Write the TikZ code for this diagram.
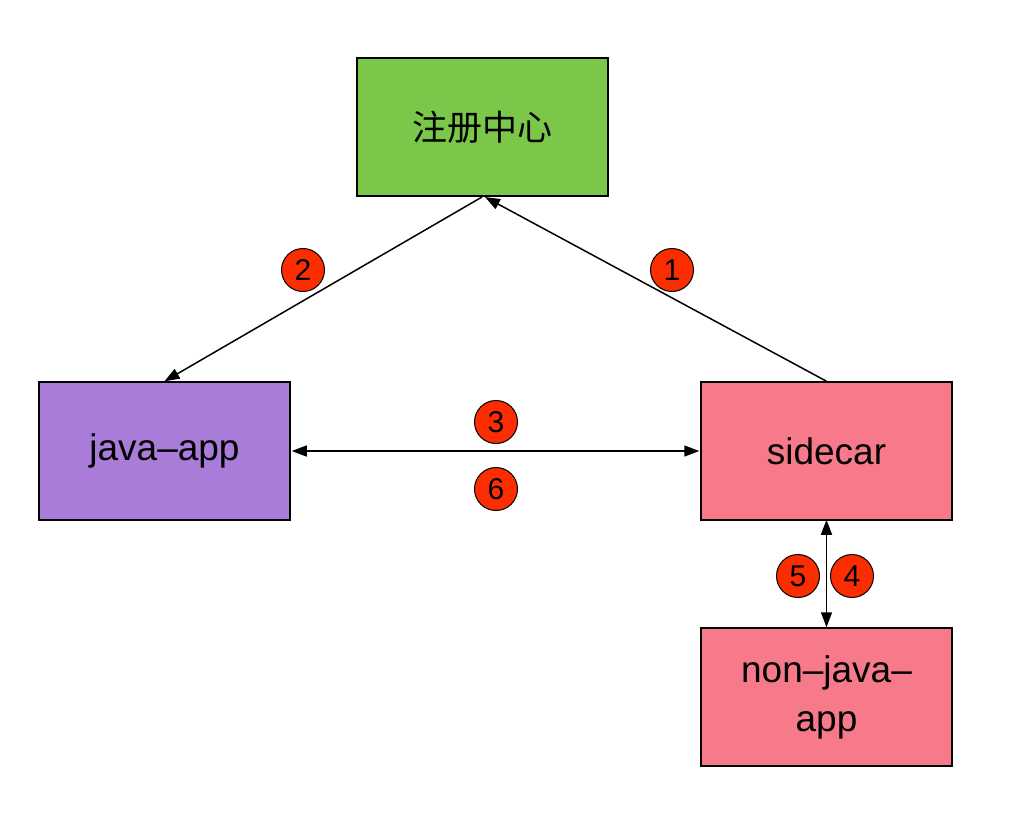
\documentclass[tikz,border=0pt]{standalone}
\usepackage{fontspec}
\setmainfont{Liberation Sans}
\newfontfamily\cjk{Noto Sans CJK SC}
\usetikzlibrary{arrows.meta}
\definecolor{regc}{HTML}{7AC74A}
\definecolor{javac}{HTML}{A87CD8}
\definecolor{sidec}{HTML}{F77A8A}
\definecolor{numc}{HTML}{FC2D00}
\tikzset{
  box/.style={draw=black, line width=1.5pt, minimum width=251pt, minimum height=138pt, inner sep=0pt, align=center, font=\fontsize{37}{49}\selectfont},
  num/.style={circle, draw=black, line width=1pt, fill=numc, minimum size=43pt, inner sep=0pt, font=\fontsize{30}{30}\selectfont},
  conn/.style={line width=1.5pt, -{Triangle[length=15pt,width=11pt]}},
  dconn/.style={line width=1.5pt, {Triangle[length=15pt,width=11pt]}-{Triangle[length=15pt,width=11pt]}}
}
\begin{document}
\begin{tikzpicture}[x=1pt,y=-1pt]
\useasboundingbox (0,0) rectangle (1020,836);
\node[box, fill=regc] (reg) at (482.5,127) {\cjk\fontsize{35}{40}\selectfont 注册中心};
\node[box, fill=javac] (java) at (164.5,451) {java–app};
\node[box, fill=sidec] (side) at (826.5,451) {sidecar};
\node[box, fill=sidec] (non) at (826.5,697) {non–java–\\app};
\coordinate (regb1) at (485,197);
\coordinate (regb2) at (482,197);
\draw[conn] (side.north) -- (regb1);
\draw[conn] (regb2) -- (java.north);
\draw[dconn] ([xshift=1pt]java.east) -- ([xshift=-1pt]side.west);
\draw[dconn] ([yshift=1pt]side.south) -- (non.north);
\node[num] (n2) at (303,270) {2};
\node[num] (n1) at (672,270) {1};
\node[num] (n3) at (496,422) {3};
\node[num] (n6) at (496,489) {6};
\node[num] (n5) at (798,576) {5};
\node[num] (n4) at (852,576) {4};
\end{tikzpicture}
\end{document}
